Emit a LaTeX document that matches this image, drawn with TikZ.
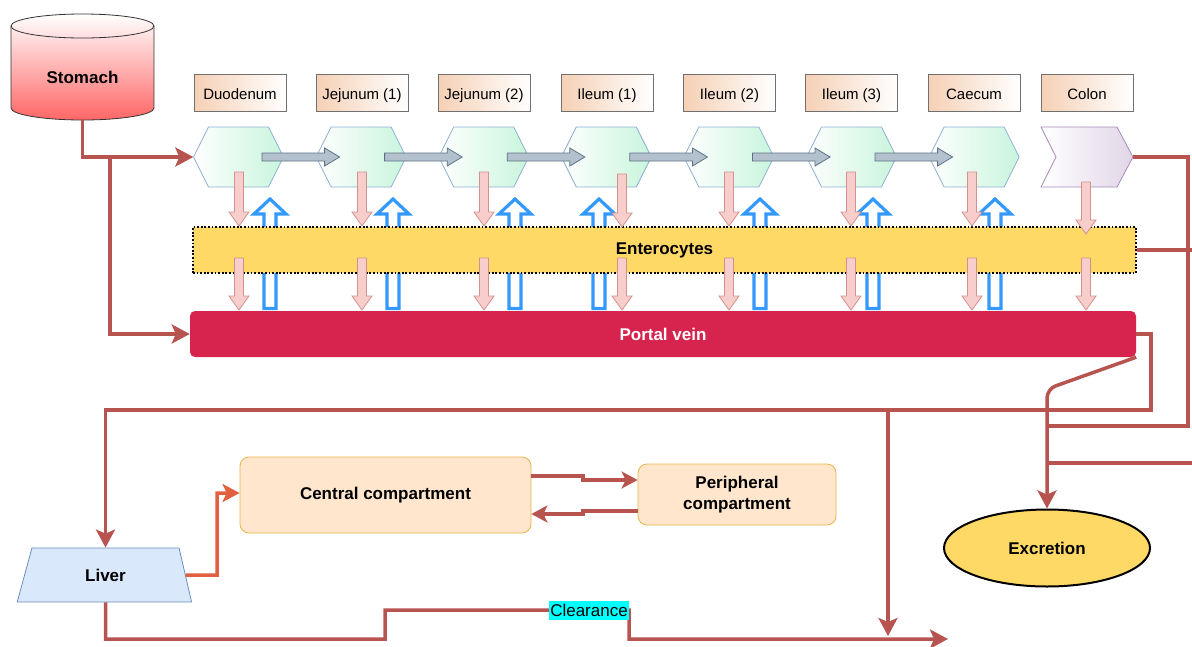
\documentclass[tikz,border=0pt]{standalone}
\usepackage{fontspec}
\setmainfont{Liberation Sans}
\usetikzlibrary{arrows.meta,calc,shapes.geometric}
\definecolor{lred}{HTML}{B85450}
\definecolor{lorange}{HTML}{E0603F}
\definecolor{peach}{HTML}{F5D0B5}
\definecolor{lblstroke}{HTML}{707070}
\definecolor{hexgreen}{HTML}{C8F5DC}
\definecolor{hexstroke}{HTML}{8FAFD6}
\definecolor{colonfill}{HTML}{E1D5E7}
\definecolor{colonstroke}{HTML}{A68BBA}
\definecolor{enter}{HTML}{FFD966}
\definecolor{pvein}{HTML}{D6244F}
\definecolor{compfill}{HTML}{FFE6CC}
\definecolor{compstroke}{HTML}{E9B44C}
\definecolor{liverfill}{HTML}{DAE8FC}
\definecolor{liverstroke}{HTML}{6C8EBF}
\definecolor{pinkfill}{HTML}{F8CECC}
\definecolor{pinkstroke}{HTML}{D3908C}
\definecolor{bluearr}{HTML}{3399FF}
\definecolor{grayfill}{HTML}{B3C1CE}
\definecolor{graystroke}{HTML}{5E7285}
\definecolor{stombot}{HTML}{FF6666}
\definecolor{clrbg}{HTML}{00FFFF}
\begin{document}
\begin{tikzpicture}[x=1pt,y=-1pt,
  lbl/.style={draw=lblstroke,line width=0.8pt,left color=peach,right color=white,
    minimum width=92pt,minimum height=37pt,inner sep=0pt,text height=15pt,text depth=2pt,
    font=\fontsize{15}{18}\selectfont},
  hexbox/.style={minimum width=90pt,minimum height=60pt,inner sep=0pt},
  hexpath/.style={draw=hexstroke,line width=0.8pt,left color=white,right color=hexgreen},
  grayarrow/.style={fill=grayfill,draw=graystroke,line width=0.8pt},
  pinkarrow/.style={fill=pinkfill,draw=pinkstroke,line width=0.8pt},
  bluearrow/.style={fill=white,draw=bluearr,line width=3.2pt},
  boldtxt/.style={font=\bfseries\fontsize{17}{21}\selectfont},
  flowline/.style={draw=lred,line width=3.5pt},
  flow/.style={flowline,-{Stealth[length=18pt,width=19pt,inset=4pt]}},
  flowsmall/.style={flowline,-{Stealth[length=16pt,width=17pt,inset=4pt]}},
  oflow/.style={draw=lorange,line width=3.5pt,-{Stealth[length=17pt,width=18pt,inset=4pt]}},
  comp/.style={draw=compstroke,line width=0.8pt,fill=compfill,rounded corners=9pt,
    inner sep=0pt,boldtxt,align=center},
]
\useasboundingbox (0,0) rectangle (1192,646);
\clip (0,0) rectangle (1192,646);

% Stomach
\path[top color=white,bottom color=stombot,draw=black!80,line width=0.8pt]
  (11,26) -- (11,108) arc[start angle=180,end angle=0,x radius=71.5,y radius=12]
  -- (154,26) arc[start angle=0,end angle=-180,x radius=71.5,y radius=12] -- cycle;
\draw[black!80,line width=0.8pt] (11,26) arc[start angle=180,end angle=0,x radius=71.5,y radius=12];
\node[minimum width=143pt,minimum height=106pt,inner sep=0pt] (stomach) at (82.5,67) {};
\node[boldtxt] (stomachtxt) at (82.5,77) {Stomach};

% Labels
\foreach \n/\x/\t in {l1/240/Duodenum,l2/362/Jejunum (1),l3/484/Jejunum (2),l4/607/Ileum (1),
  l5/729.5/Ileum (2),l6/851.5/Ileum (3),l7/974/Caecum,l8/1087/Colon}
  \node[lbl] (\n) at (\x,92.5) {\t};

% Hexagons
\foreach \n/\x in {h1/238.5,h2/361.1,h3/483.7,h4/606.3,h5/728.9,h6/851.5,h7/974.1}{
  \path[hexpath] (\x-45,157) -- (\x-30,127) -- (\x+30,127) -- (\x+45,157)
     -- (\x+30,187) -- (\x-30,187) -- cycle;
  \node[hexbox] (\n) at (\x,157) {};
}
% Colon chevron
\path[draw=colonstroke,line width=0.8pt,left color=white,right color=colonfill]
  (1041,127) -- (1117,127) -- (1133,157) -- (1117,187) -- (1041,187) -- (1056,157) -- cycle;
\node[minimum width=92pt,minimum height=60pt,inner sep=0pt] (colon) at (1087,157) {};

% Gray transit arrows
\foreach \a/\b in {238.5/361.1,361.1/483.7,483.7/606.3,606.3/728.9,728.9/851.5,851.5/974.1}
  \path[grayarrow] (\a+23.5,153) -- (\b-36.5,153) -- (\b-36.5,148) -- (\b-21.5,157)
    -- (\b-36.5,166) -- (\b-36.5,161) -- (\a+23.5,161) -- cycle;

% Blue hollow arrows
\foreach \x in {270,393,515,599,760,873,995}
  \path[bluearrow] (\x-6,308.5) -- (\x-6,214) -- (\x-16,214) -- (\x,199) -- (\x+16,214)
    -- (\x+6,214) -- (\x+6,308.5) -- cycle;

% Enterocytes and portal vein
\node[fill=enter,draw=black,line width=1.8pt,dash pattern=on 1.8pt off 1.8pt,
  minimum width=943pt,minimum height=46pt,inner sep=0pt,boldtxt] (ent) at (664.5,250) {Enterocytes};
\node[fill=pvein,rounded corners=5pt,minimum width=946pt,minimum height=46pt,inner sep=0pt,
  boldtxt,text=white] (pv) at (663,334) {Portal vein};

% Pink arrows
\foreach \x/\top/\tip in {239/172/226,362/172/226,484/172/226,622/174/227,729/172/226,
  851/172/226,972/172/226,1086/182/234,
  239/258/310,362/258/310,484/258/310,622/258/310,729/258/310,851/258/310,972/258/310,1086/258/310}
  \path[pinkarrow] (\x-4.5,\top) -- (\x+4.5,\top) -- (\x+4.5,\tip-14) -- (\x+10,\tip-14)
    -- (\x,\tip) -- (\x-10,\tip-14) -- (\x-4.5,\tip-14) -- cycle;

% Lower nodes
\node[trapezium,trapezium left angle=72,trapezium right angle=74.5,trapezium stretches=true,
  minimum width=175pt,minimum height=54pt,inner sep=0pt,fill=liverfill,draw=liverstroke,
  line width=0.8pt,boldtxt] (liver) at (105.5,575) {Liver};
\node[comp,minimum width=291pt,minimum height=76pt] (central) at (385.5,495) {Central compartment};
\node[comp,minimum width=198pt,minimum height=61pt] (peri) at (737,494.5) {Peripheral\\[0.5pt]compartment};
\node[ellipse,draw=black,line width=2pt,fill=enter,minimum width=206pt,minimum height=77pt,
  inner sep=0pt,boldtxt] (exc) at (1047,548) {Excretion};

% Connectors
\draw[flow] (stomach.south) |- (h1.west);
\coordinate (sj) at (110,157);
\draw[flow] (sj) |- (pv.west);
\draw[flowline] (colon.east) -- (1188,157) -- (1188,426) -- (1047,426);
\draw[flowline] (ent.east) -- (1210,250) -- (1210,463) -- (1047,463);
\draw[flow] (pv.east) -| (1151,410) -| (liver.north);
\coordinate (vj) at (888,410);
\coordinate (vend) at (888,636);
\draw[flow] (vj) -- (vend);
\draw[flow,rounded corners=9pt] (pv.south east) -- (1047,389) -- (exc.north);
\draw[oflow] (liver.east) -- (217,575) |- ($(central.west)+(0,-2)$);
\draw[flowsmall] ($(central.east)+(0,-19)$) -- (583,476) -- (583,480) -- ($(peri.west)+(0,-14.5)$);
\draw[flowsmall] ($(peri.west)+(0,16.5)$) -- (583,511) -- (583,514) -- ($(central.east)+(0,19)$);
\coordinate (clrend) at (948,639);
\draw[flow] (liver.south) -- (105.5,639) -- (385,639) -- (385,610) -- (629,610) -- (629,639) -- (clrend);
\node[fill=clrbg,inner xsep=1pt,inner ysep=0pt,minimum height=19pt,
  font=\fontsize{17}{20}\selectfont] (clr) at (589,610) {Clearance};
\end{tikzpicture}
\end{document}
